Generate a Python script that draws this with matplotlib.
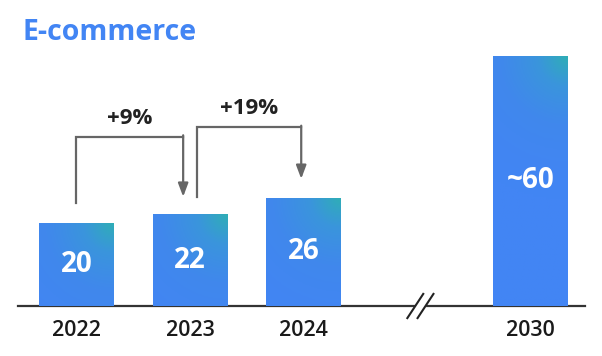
import numpy as np
import matplotlib
matplotlib.use('Agg')
import matplotlib.pyplot as plt
from matplotlib.colors import LinearSegmentedColormap

# data
years = ['2022', '2023', '2024', '2030']
x_pos = [0, 1, 2, 4]
values = [20, 22, 26, 60]
value_labels = ['20', '22', '26', '~60']
growth_labels = ['+9%', '+19%']
growth_pairs = [(0, 1), (1, 2)]
break_x = 3.03

plt.rcParams['font.family'] = ['Open Sans', 'DejaVu Sans']

blue = '#4285F4'
grey = '#666666'
dark = '#333333'

fig = plt.figure(figsize=(6.02, 3.56), dpi=100)
# axes spans the baseline, from px 18 to 585, baseline at px 306
ax = fig.add_axes([18 / 602, 50 / 356, 567 / 602, 306 / 356])
ax.set_xlim(-0.515, 4.48)
ax.set_ylim(0, 73.4)
for side in ['top', 'right', 'left']:
    ax.spines[side].set_visible(False)
ax.spines['bottom'].set_color(dark)
ax.spines['bottom'].set_linewidth(1.6)
ax.set_yticks([])
ax.set_xticks(x_pos)
ax.set_xticklabels(years, fontsize=15.5, color='#1a1a1a', fontweight='semibold')
ax.tick_params(axis='x', length=0, pad=10)

# bars with a diagonal blue -> teal gradient
cmap = LinearSegmentedColormap.from_list('bar', [blue, '#4088EC', '#3A95DC', '#2FAEB6'])
bars = ax.bar(x_pos, values, width=0.66, color=blue, zorder=2)
ny, nx = 100, 40
gy, gx = np.mgrid[0:1:ny * 1j, 0:1:nx * 1j]
for b in bars:
    x0, w, h = b.get_x(), b.get_width(), b.get_height()
    # gradient strength depends on pixel distance from the top right corner
    aspect = (h * 4.17) / (w * 113.5)
    d = np.sqrt(((1 - gx) * 1.0) ** 2 + ((1 - gy) * aspect) ** 2)
    g = np.clip(1 - d / 2.0, 0, 1) ** 1.8
    im = ax.imshow(g, cmap=cmap, vmin=0, vmax=1, origin='lower',
                   extent=[x0, x0 + w, 0, h], aspect='auto', zorder=3)
    im.set_clip_path(b)

for xp, v, lab in zip(x_pos, values, value_labels):
    ax.text(xp, v / 2, lab, ha='center', va='center', color='white',
            fontsize=20, fontweight='bold', zorder=4)

# growth brackets
start_gap = [4.7, 4.2]
tip_gap = [4.2, 4.5]
tops = [40.6, 42.9]
x_shift = [(0.0, -0.06), (0.06, -0.02)]
for k, (i, j) in enumerate(growth_pairs):
    xa = x_pos[i] + x_shift[k][0]
    xb = x_pos[j] + x_shift[k][1]
    ya = values[i] + start_gap[k]
    yb = values[j] + tip_gap[k]
    ax.plot([xa, xa, xb], [ya, tops[k], tops[k]], color=grey, lw=1.6,
            solid_joinstyle='miter', zorder=2)
    ax.annotate('', xy=(xb, yb), xytext=(xb, tops[k] + 0.35),
                arrowprops=dict(arrowstyle='-|>,head_length=0.8,head_width=0.3',
                                color=grey, lw=1.6, shrinkA=0, shrinkB=0))
    ax.text((xa + xb) / 2, tops[k] + 4.4, growth_labels[k], ha='center',
            va='center', fontsize=16, fontweight='bold', color='#222222')

# axis break marks
for dx in (-0.045, 0.045):
    ax.plot([break_x + dx - 0.07, break_x + dx + 0.07], [-2.9, 2.9],
            color='#222222', lw=1.5, clip_on=False, zorder=5)
ax.plot([break_x - 0.03, break_x + 0.03], [0, 0], color='white', lw=3,
        clip_on=False, zorder=4)

fig.text(22 / 602, 1 - 32 / 356, 'E-commerce', color=blue, fontsize=20.5,
         fontweight='bold', va='center', ha='left')

fig.savefig('out.png', dpi=100, facecolor='white')
